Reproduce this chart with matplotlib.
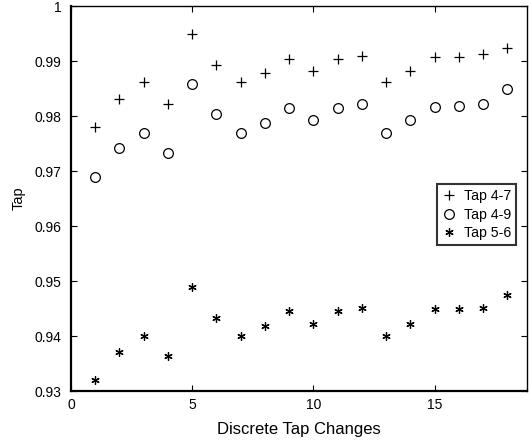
import matplotlib
matplotlib.use("Agg")
import matplotlib.pyplot as plt

plt.rcParams['font.family'] = ['Liberation Sans', 'DejaVu Sans']

x = list(range(1, 19))
tap47 = [0.9780, 0.9831, 0.9861, 0.9822, 0.9949, 0.9892, 0.9861, 0.9878, 0.9903,
         0.9882, 0.9904, 0.9910, 0.9861, 0.9882, 0.9907, 0.9908, 0.9912, 0.9924]
tap49 = [0.9690, 0.9742, 0.9770, 0.9733, 0.9859, 0.9803, 0.9770, 0.9787, 0.9814,
         0.9793, 0.9814, 0.9821, 0.9770, 0.9793, 0.9817, 0.9819, 0.9821, 0.9849]
tap56 = [0.9320, 0.9372, 0.9401, 0.9364, 0.9490, 0.9433, 0.9401, 0.9418, 0.9446,
         0.9422, 0.9445, 0.9451, 0.9401, 0.9422, 0.9449, 0.9450, 0.9452, 0.9475]
labels = ['Tap 4-7', 'Tap 4-9', 'Tap 5-6']
xticks = [0, 5, 10, 15]
yticks = [0.93, 0.94, 0.95, 0.96, 0.97, 0.98, 0.99, 1.0]
yticklabels = ['0.93', '0.94', '0.95', '0.96', '0.97', '0.98', '0.99', '1']

fig = plt.figure(figsize=(5.29, 4.45), dpi=100)
ax = fig.add_axes([0.134, 0.121, 0.862, 0.8655])

ax.plot(x, tap47, linestyle='none', marker='+', ms=7, mew=0.9, color='black', label=labels[0])
ax.plot(x, tap49, linestyle='none', marker='o', ms=7, mew=0.9, mfc='none', color='black', label=labels[1])
ax.plot(x, tap56, linestyle='none', marker=(6, 2, 0), ms=6, mew=0.9, color='black', label=labels[2])

ax.set_xlim(0, 18.8)
ax.set_ylim(0.93, 1.0)
ax.set_xticks(xticks)
ax.set_yticks(yticks)
ax.set_yticklabels(yticklabels)
ax.tick_params(direction='in', top=True, right=True, labelsize=10, length=4, width=0.8)
ax.tick_params(axis='y', pad=7)
ax.tick_params(axis='x', pad=5)
for s in ax.spines.values():
    s.set_linewidth(1.0)
ax.spines['left'].set_linewidth(1.6)
ax.spines['bottom'].set_linewidth(1.6)

ax.set_xlabel('Discrete Tap Changes', fontsize=12, labelpad=7)
ax.set_ylabel('Tap', fontsize=10.5, labelpad=6)

leg = ax.legend(loc='upper right', bbox_to_anchor=(0.977, 0.537), frameon=True, fancybox=False,
                edgecolor='black', fontsize=10.2, handlelength=1.0, handletextpad=0.6,
                borderpad=0.35, labelspacing=0.3, borderaxespad=0)
leg.get_frame().set_linewidth(1.5)

fig.savefig('out.png', dpi=100)
